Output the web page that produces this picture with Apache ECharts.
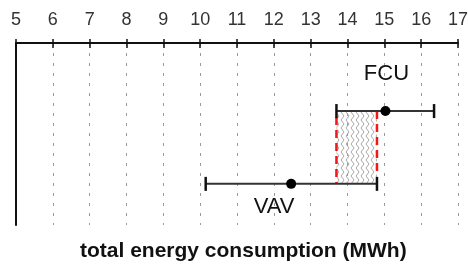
<!DOCTYPE html>
<html>
<head>
<meta charset="utf-8">
<script src="https://cdn.jsdelivr.net/npm/echarts@6/dist/echarts.min.js"></script>
<style>
  html, body { margin: 0; padding: 0; background: #fff; }
  #chart { width: 468px; height: 266px; }
</style>
</head>
<body>
<div id="chart"></div>
<script>
// energy use ranges per system (MWh): low end, median, high end
const systems = ['FCU', 'VAV']
const lowValues = [13.7, 10.15]
const medianValues = [15.03, 12.47]
const highValues = [16.35, 14.8]
// vertical level of each row on the hidden y scale (0 at the top axis)
const rowLevels = [1.87, 3.87]
const labelSides = ['above', 'below']
const axisMin = 5
const axisMax = 17
const axisStep = 1

const FONT = '"Liberation Sans", Arial, sans-serif'

// grey zig-zag fill for the overlap band
function zigzagPattern() {
  const c = document.createElement('canvas')
  c.width = 5
  c.height = 8
  const ctx = c.getContext('2d')
  ctx.strokeStyle = '#a8a8a8'
  ctx.lineWidth = 1
  ctx.beginPath()
  ctx.moveTo(1, 0)
  ctx.lineTo(4, 4)
  ctx.lineTo(1, 8)
  ctx.stroke()
  return c
}

function renderInterval(params, api) {
  const y = api.value(3)
  const lo = api.coord([api.value(0), y])
  const mid = api.coord([api.value(1), y])
  const hi = api.coord([api.value(2), y])
  const i = params.dataIndex
  const above = labelSides[i] === 'above'
  return {
    type: 'group',
    children: [
      { type: 'line', shape: { x1: lo[0], y1: lo[1], x2: hi[0], y2: hi[1] },
        style: { stroke: '#333', lineWidth: 2 } },
      { type: 'line', shape: { x1: lo[0], y1: lo[1] - 7, x2: lo[0], y2: lo[1] + 7 },
        style: { stroke: '#111', lineWidth: 2.5 } },
      { type: 'line', shape: { x1: hi[0], y1: hi[1] - 7, x2: hi[0], y2: hi[1] + 7 },
        style: { stroke: '#111', lineWidth: 2.5 } },
      { type: 'circle', shape: { cx: mid[0], cy: mid[1], r: 5 },
        style: { fill: '#000' } },
      { type: 'text',
        x: mid[0] + (above ? 1 : -17),
        y: mid[1] + (above ? -37 : 23),
        style: { text: systems[i], fontFamily: FONT, fontSize: 22, fill: '#111',
          align: 'center', verticalAlign: 'middle' } }
    ]
  }
}

function renderOverlap(params, api) {
  const tl = api.coord([api.value(0), api.value(2)])
  const br = api.coord([api.value(1), api.value(3)])
  const red = { stroke: '#f01818', lineWidth: 2.5, lineDash: [8, 5] }
  return {
    type: 'group',
    children: [
      { type: 'rect', shape: { x: tl[0], y: tl[1] + 1, width: br[0] - tl[0], height: br[1] - tl[1] - 1 },
        style: { fill: { image: zigzagPattern(), repeat: 'repeat' } } },
      { type: 'line', shape: { x1: tl[0], y1: tl[1] + 6, x2: tl[0], y2: br[1] }, style: red },
      { type: 'line', shape: { x1: br[0], y1: tl[1], x2: br[0], y2: br[1] - 9 }, style: red }
    ]
  }
}

const intervalData = systems.map((s, i) => [lowValues[i], medianValues[i], highValues[i], rowLevels[i]])
const overlapData = [[Math.max(...lowValues), Math.min(...highValues), rowLevels[0], rowLevels[1]]]

const chart = echarts.init(document.getElementById('chart'), null, { renderer: 'canvas' })
chart.setOption({
  animation: false,
  title: {
    text: 'total energy consumption (MWh)',
    left: 80,
    top: 241,
    padding: 0,
    textStyle: { fontFamily: FONT, fontSize: 21, fontWeight: 'bold', color: '#111' }
  },
  grid: { left: 16, right: 10, top: 43, bottom: 41, containLabel: false, outerBoundsMode: 'none' },
  xAxis: [
    {
      type: 'value', position: 'top', min: axisMin, max: axisMax, interval: axisStep,
      axisLine: { show: true, lineStyle: { color: '#111', width: 2 } },
      axisTick: { show: true, inside: false, length: 4, lineStyle: { color: '#111', width: 1.5 } },
      axisLabel: { show: true, margin: 14, fontFamily: FONT, fontSize: 18, color: '#333' },
      splitLine: { show: true, lineStyle: { color: '#9a9a9a', width: 1, type: [3, 7] } }
    },
    {
      type: 'value', position: 'top', min: axisMin, max: axisMax, interval: axisStep,
      axisLine: { show: false },
      axisTick: { show: true, inside: true, length: 5, lineStyle: { color: '#111', width: 1.5 } },
      axisLabel: { show: false },
      splitLine: { show: false }
    }
  ],
  yAxis: {
    type: 'value', min: 0, max: 5, inverse: true,
    axisLine: { show: true, lineStyle: { color: '#111', width: 2 } },
    axisTick: { show: false },
    axisLabel: { show: false },
    splitLine: { show: false }
  },
  series: [
    { type: 'custom', renderItem: renderOverlap, data: overlapData, z: 1,
      encode: { x: [0, 1], y: [2, 3] } },
    { type: 'custom', renderItem: renderInterval, data: intervalData, z: 2,
      encode: { x: [0, 1, 2], y: 3 } }
  ]
})
</script>
</body>
</html>
